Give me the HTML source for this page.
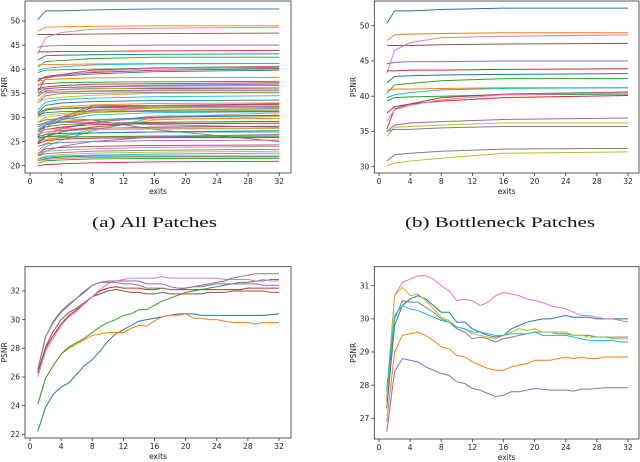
<!DOCTYPE html>
<html><head><meta charset="utf-8"><style>
html,body{margin:0;padding:0;background:#fff;width:640px;height:462px;overflow:hidden}
svg{position:absolute;left:0;top:0}
text{font-family:"DejaVu Sans","Liberation Sans",sans-serif;fill:#222}
.cap{font-family:"Liberation Serif",serif;font-size:15px;fill:#111}
</style></head><body>
<svg id="chart" width="640" height="462" viewBox="0 0 640 462"></svg>
<script>
const colors=['#1f77b4','#ff7f0e','#2ca02c','#d62728','#9467bd','#8c564b','#e377c2','#7f7f7f','#bcbd22','#17becf'];
const sparseExits=[1,2,4,8,16,32];
const fullExits=[1,2,3,4,5,6,7,8,9,10,11,12,13,14,15,16,17,18,19,20,21,22,23,24,25,26,27,28,29,30,31,32];
const xTicks=[0,4,8,12,16,20,24,28,32];
const yTicksA=[20,25,30,35,40,45,50];
const yTicksB=[30,35,40,45,50];
const yTicksC=[22,24,26,28,30,32];
const yTicksD=[27,28,29,30,31];
const bottleneckSeries=[
[50.3,52.1,52.1,52.3,52.5,52.5],[47.9,48.7,48.8,48.9,49.0,49.0],[47.2,47.2,47.2,47.3,47.4,47.5],
[43.2,46.5,47.6,48.3,48.5,48.7],[44.6,44.8,44.9,44.9,45,45],[43.6,43.6,43.7,43.7,43.8,43.9],
[41.9,42.8,42.9,43,43.1,43.2],[40.4,41.6,41.8,42.2,42.5,42.5],[40.9,41,41,41.1,41.2,41.2],
[39.8,40.2,40.5,40.9,41.1,41.2],[39.3,39.8,39.9,40,40.2,40.3],[37.6,38.5,38.9,39.3,39.8,40.1],
[35.3,38.2,38.9,39.8,40.3,40.6],[36.4,38.1,38.7,39.5,40.2,40.5],[35,35.9,36.2,36.4,36.7,36.9],
[34.3,35.6,35.7,35.9,36.2,36.2],[35,35.3,35.3,35.5,35.7,35.7],[30.8,31.7,31.9,32.2,32.5,32.6],
[30.1,30.5,30.8,31.2,31.9,32.1]];
const bottleneckColors=[0,1,5,6,4,3,0,2,1,9,2,3,5,6,4,8,7,7,8];
const otherSeries=[
[38,38.3,38.6,39,39.5,39.8],[37.5,37.8,38,38.2,38.3,38.3],[36.8,37,37.2,37.3,37.4,37.5],
[36,36.3,36.6,36.9,37,37.2],[35.8,36,36.2,36.3,36.5,36.6],[34.5,35.5,35.8,36,36,36.1],
[33.5,35,35.3,35.4,35.5,35.5],[33,34.5,35,35,35.2,35.2],[33.2,33.8,34.2,34.6,35,35.1],
[31.5,33.2,33.7,34.0,34.3,34.5],[31,32.5,33,33.3,33.5,33.6],[30.5,31.8,32.2,32.6,32.9,33.0],
[30,31.5,31.8,32,32.2,32.3],[26,28.5,30,32,32.5,32.8],[26,28.5,30,32.5,32.5,32.2],
[26,28,29.5,31.5,32,32.0],[25,26.5,27.8,29,30,31],[24.5,26,27.6,29,30.3,30.4],
[23,24.5,26,27.5,29.5,30.2],[22.2,23.9,25.3,27.2,30,30.4],[27,28.5,29,29.5,30,30.5],
[28,28.8,29.2,29.5,29.7,29.8],[27.5,28,28.5,28.8,29,29.2],[27,27.5,28,28.5,28.7,28.8],
[28.5,28.8,29,29,28.5,28.0],[26.5,27,27.3,27.7,28,28.2],[27,27.5,27.7,27.8,27.8,27.8],
[29,29.5,29.8,29.5,27.5,25.0],[26.5,27,27.2,27.5,27.6,27.7],[25.5,26,26.3,26.8,27,27.3],
[26,26.5,26.7,26.8,27,27],[25,25.5,25.8,26,26.2,26.3],[25.8,26,26,26,26,26],
[24.5,25.2,25.5,25.7,25.8,25.8],[24,24.5,24.8,25,25.2,25.3],[22.5,23.5,23.8,24,24.2,24.3],
[22.5,23,23.2,23.5,23.8,24],[22,22.5,22.7,23,23.2,23.4],[21.5,22,22.3,22.6,22.8,23],
[21.3,21.8,22,22.2,22.4,22.6],[21,21.5,21.8,22,22,22],[21,21.3,21.5,21.7,21.8,21.8],
[20.5,21,21.2,21.4,21.5,21.5],[20,20.2,20.4,20.6,20.8,20.9],[22,23,24,25,26,26.5],
[24.8,26,27,28,29,29.2],[26.3,28,29.7,31.6,32.1,32.2],[28,29,30,31,31.5,31.8],
[29,30,30.5,31,31.3,31.5],[27.5,28.5,29.5,30.5,31,31.2],[30.5,31,31.2,31.3,31.3,31.3]];
const cSeries=[
[22.2,23.9,24.8,25.3,25.6,26.2,26.8,27.2,27.8,28.5,29,29.3,29.6,29.9,30,30.1,30.2,30.3,30.4,30.4,30.4,30.3,30.3,30.3,30.3,30.3,30.3,30.3,30.3,30.3,30.35,30.4],
[24.1,25.9,26.8,27.6,28,28.3,28.6,28.9,29,29.1,29.1,29.1,29.4,29.6,29.55,29.9,30.2,30.3,30.3,30.4,30.1,30.1,30.0,30.0,29.9,29.8,29.8,29.8,29.7,29.8,29.8,29.8],
[24.1,25.9,26.8,27.6,28.1,28.4,28.7,29.1,29.5,29.8,30,30.3,30.4,30.7,30.7,31,31.3,31.5,31.7,31.9,32,32.1,32.2,32.3,32.4,32.5,32.6,32.6,32.7,32.7,32.8,32.8],
[26.3,28,28.9,29.7,30.3,30.7,31.1,31.6,32,32.2,32.3,32.2,32.2,32.2,32.1,32.1,32.2,32.1,32.1,32.1,32.1,32.1,32.1,32.1,32.1,32.1,32.1,32.2,32.2,32.2,32.2,32.2],
[26.5,28.8,29.8,30.5,31,31.5,32,32.4,32.6,32.7,32.7,32.7,32.7,32.7,32.5,32.5,32.5,32.3,32.2,32.2,32.3,32.3,32.4,32.5,32.5,32.5,32.5,32.5,32.5,32.4,32.4,32.4],
[26.3,28.1,29.2,30,30.5,30.8,31.2,31.6,31.8,32,32.1,32,31.9,31.9,31.8,31.8,31.9,31.8,31.8,31.8,31.8,31.8,31.9,31.9,31.9,32,32,32,32,32,31.9,31.9],
[26,27.8,28.7,29.6,30.2,30.6,31.1,31.6,32.1,32.5,32.7,32.8,32.9,32.9,32.9,32.9,33,32.9,32.9,32.9,32.9,32.9,32.9,32.9,32.8,32.8,32.8,32.8,32.7,32.8,32.7,32.7],
[26.5,28.8,29.9,30.6,31.1,31.5,31.9,32.4,32.6,32.6,32.6,32.5,32.5,32.4,32.2,32.2,32.2,32.1,32.1,32.2,32.3,32.4,32.5,32.6,32.7,32.9,33,33.1,33.2,33.2,33.2,33.2]];
const dSeries=[
[27.3,29.8,30.4,30.6,30.7,30.6,30.4,30.2,30.2,29.9,29.9,29.7,29.6,29.5,29.45,29.5,29.7,29.8,29.9,29.95,30,30,30.05,30.1,30.05,30.05,30.05,30,30,30,30,30],
[26.9,29,29.5,29.55,29.6,29.5,29.35,29.15,29.1,28.9,28.85,28.7,28.6,28.5,28.45,28.45,28.55,28.6,28.65,28.75,28.75,28.75,28.8,28.85,28.8,28.85,28.8,28.8,28.85,28.85,28.85,28.85],
[null],[null],
[26.6,28.4,28.8,28.75,28.7,28.55,28.45,28.35,28.3,28.1,28.05,27.9,27.85,27.75,27.65,27.7,27.8,27.8,27.85,27.9,27.88,27.85,27.85,27.85,27.82,27.88,27.88,27.9,27.92,27.92,27.92,27.92],
[null],
[27.8,30.7,31.1,31.2,31.3,31.3,31.2,31,30.85,30.55,30.6,30.55,30.4,30.5,30.7,30.8,30.75,30.7,30.6,30.55,30.5,30.4,30.35,30.3,30.2,30.1,30.1,30.05,30,30,29.95,29.9],
[27.5,30,30.55,30.5,30.5,30.35,30.2,30,29.9,29.7,29.6,29.4,29.45,29.4,29.3,29.4,29.45,29.5,29.55,29.6,29.6,29.6,29.55,29.55,29.5,29.5,29.5,29.45,29.45,29.45,29.45,29.45],
[27.6,30.7,30.95,30.7,30.75,30.55,30.3,30.05,29.95,29.75,29.7,29.55,29.5,29.45,29.4,29.5,29.6,29.7,29.65,29.7,29.6,29.6,29.6,29.6,29.5,29.5,29.45,29.45,29.45,29.4,29.4,29.4],
[27.9,30.1,30.4,30.3,30.25,30.15,30.05,29.95,29.9,29.75,29.7,29.6,29.6,29.55,29.5,29.5,29.55,29.55,29.55,29.6,29.5,29.5,29.5,29.5,29.45,29.4,29.35,29.35,29.35,29.35,29.3,29.3]];

const NS='http://www.w3.org/2000/svg';
const svg=document.getElementById('chart');
function mk(tag,attrs,parent){const e=document.createElementNS(NS,tag);for(const k in attrs)e.setAttribute(k,attrs[k]);(parent||svg).appendChild(e);return e;}

function panel(p){
  const g=mk('g',{});
  
  
  const sx=v=>p.x0+(v-0)*(p.x32-p.x0)/32;
  const sy=v=>p.yA+(v-p.vA)*(p.yB-p.yA)/(p.vB-p.vA);
  const lines=mk('g',{},g);
  
  
  p.series.forEach((s,i)=>{
    if(s[0]==null)return;
    const pts=s.map((v,j)=>sx(p.exits[j]).toFixed(2)+','+sy(v).toFixed(2)).join(' ');
    const l=mk('polyline',{points:pts,fill:'none',stroke:colors[p.colorOf(i)%10],'stroke-width':p.sw},lines);
    
    
  });
  const fr=mk('rect',{x:p.L,y:p.T,width:p.R-p.L,height:p.B-p.T,fill:'none',stroke:'#333','stroke-width':0.8},g);
  
  
  xTicks.forEach(t=>{
    mk('line',{x1:sx(t),x2:sx(t),y1:p.B,y2:p.B+3,stroke:'#333','stroke-width':0.8},g);
    const tx=mk('text',{x:sx(t),y:p.B+11,'font-size':7.5,'text-anchor':'middle'},g);
    tx.textContent=t;
    
    
  });
  p.yt.forEach(t=>{
    mk('line',{x1:p.L-3,x2:p.L,y1:sy(t),y2:sy(t),stroke:'#333','stroke-width':0.8},g);
    const tx=mk('text',{x:p.L-5,y:sy(t)+2.7,'font-size':7.5,'text-anchor':'end'},g);
    tx.textContent=t;
    
    
  });
  const xl=mk('text',{x:(p.L+p.R)/2,y:p.B+21,'font-size':7.5,'text-anchor':'middle'},g);
  xl.textContent='exits';
  
  
  const yx=p.ylx, yy=(p.T+p.B)/2;
  const yl=mk('text',{x:yx,y:yy,'font-size':7.5,'text-anchor':'middle',transform:`rotate(-90 ${yx} ${yy})`},g);
  yl.textContent='PSNR';
  
  
  if(p.cap){
    const c=mk('text',{x:p.capx,y:227,'text-anchor':'start',class:'cap',textLength:p.capw,lengthAdjust:'spacingAndGlyphs'},g);
    c.textContent=p.cap;
    
    
  }
}
const allA=otherSeries.concat(bottleneckSeries);
panel({name:'panel-a-all-patches',L:25,R:291,T:1,B:173,x0:30,x32:279.3,vA:50,yA:21,vB:20,yB:165.7,
  yt:yTicksA,series:allA,exits:sparseExits,colorOf:i=>i<otherSeries.length?i:bottleneckColors[i-otherSeries.length],sw:0.9,ylx:7,cap:'(a) All Patches',capx:92,capw:125});
panel({name:'panel-b-bottleneck-patches',L:374.3,R:639,T:1,B:173,x0:379,x32:628,vA:50,yA:25.7,vB:30,yB:166.7,
  yt:yTicksB,series:bottleneckSeries,exits:sparseExits,colorOf:i=>bottleneckColors[i],sw:1,ylx:356,cap:'(b) Bottleneck Patches',capx:405,capw:190});
panel({name:'panel-c',L:25,R:291,T:266.7,B:438,x0:30,x32:279,vA:32,yA:291,vB:22,yB:434.3,
  yt:yTicksC,series:cSeries,exits:fullExits,colorOf:i=>i,sw:1,ylx:7});
panel({name:'panel-d',L:374.3,R:639,T:266.7,B:439,x0:379,x32:628,vA:31,yA:285.7,vB:27,yB:418.3,
  yt:yTicksD,series:dSeries,exits:fullExits,colorOf:i=>i,sw:1,ylx:356});
</script>
</body></html>
